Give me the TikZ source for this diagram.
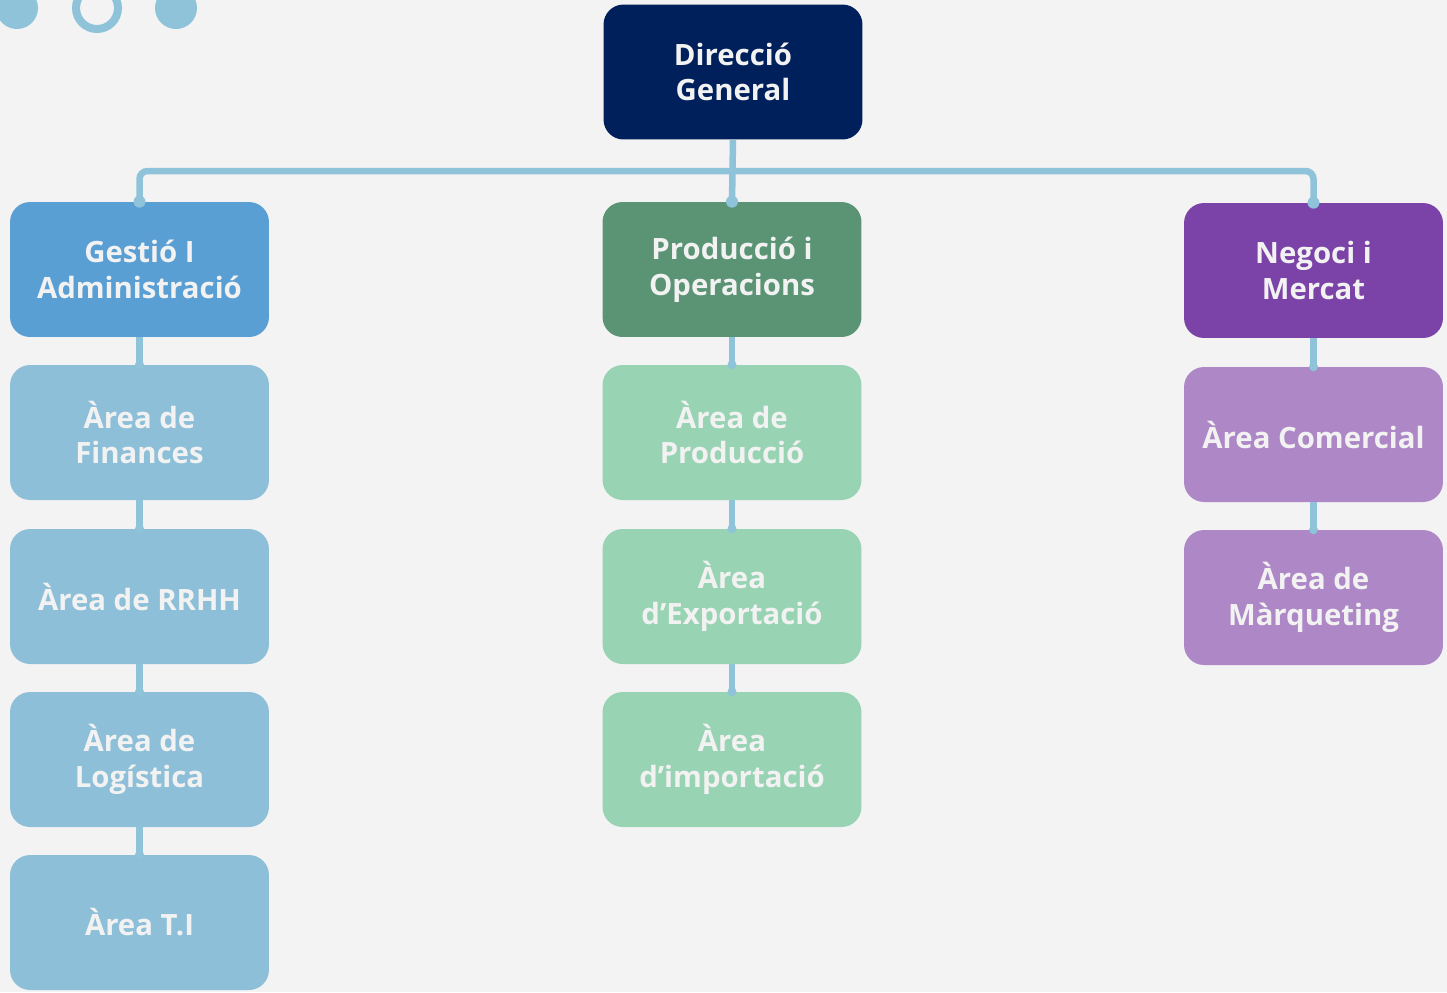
\documentclass[tikz,border=0pt]{standalone}
\usepackage{fontspec}
\setmainfont{Open Sans}
\definecolor{bgcol}{HTML}{F3F3F3}
\definecolor{linkcol}{HTML}{8EC3DA}
\definecolor{navy}{HTML}{00205B}
\definecolor{gestcol}{HTML}{5A9FD4}
\definecolor{gestsub}{HTML}{8DC0D8}
\definecolor{prodcol}{HTML}{5A9474}
\definecolor{prodsub}{HTML}{98D3B4}
\definecolor{negcol}{HTML}{7B42A8}
\definecolor{negsub}{HTML}{AD87C6}
\definecolor{txtcol}{HTML}{F2F2F2}
\begin{document}
\begin{tikzpicture}[x=0.02cm,y=-0.02cm,
    box/.style={rounded corners=0.4cm,minimum width=5.18cm,minimum height=2.7cm,
      align=center,text=txtcol,font=\fontsize{16.7}{20.3}\selectfont\bfseries,inner sep=0pt},
    link/.style={draw=linkcol,line width=0.13cm},
    dot/.style={fill=linkcol}]
  % background
  \useasboundingbox (0,0) rectangle (1447,992);
  \fill[bgcol] (0,0) rectangle (1447,992);
  \clip (0,0) rectangle (1447,992);
  \fill[linkcol] (17,8) circle (0.42cm);
  \draw[linkcol,line width=0.16cm] (97,8) circle (0.42cm);
  \fill[linkcol] (176,8) circle (0.42cm);
  % boxes
  \node[box,fill=navy] (dg) at (733,72) {Direcció\\General};
  \node[box,fill=gestcol] (gest) at (139.5,269.5) {Gestió I\\Administració};
  \node[box,fill=gestsub] (fin) at (139.5,432.5) {Àrea de\\Finances};
  \node[box,fill=gestsub] (rrhh) at (139.5,596.5) {Àrea de RRHH};
  \node[box,fill=gestsub] (log) at (139.5,759.5) {Àrea de\\Logística};
  \node[box,fill=gestsub] (ti) at (139.5,922.5) {Àrea T.I};
  \node[box,fill=prodcol] (prod) at (732,269.5) {Producció i\\Operacions};
  \node[box,fill=prodsub] (pro) at (732,432.5) {Àrea de\\Producció};
  \node[box,fill=prodsub] (exp) at (732,596.5) {Àrea\\d’Exportació};
  \node[box,fill=prodsub] (imp) at (732,759.5) {Àrea\\d’importació};
  \node[box,fill=negcol] (neg) at (1313.5,270.5) {Negoci i\\Mercat};
  \node[box,fill=negsub] (com) at (1313.5,434.5) {Àrea Comercial};
  \node[box,fill=negsub] (mar) at (1313.5,597.5) {Àrea de\\Màrqueting};
  % connectors
  \coordinate (bus) at (733,171);
  \draw[link,rounded corners=0.16cm] (gest.north) |- (bus) -| (neg.north);
  \draw[link] (dg.south) -- (prod.north);
  \foreach \a/\b in {gest/fin,fin/rrhh,rrhh/log,log/ti,prod/pro,pro/exp,exp/imp,neg/com,com/mar}
    \draw[link] (\a.south) -- (\b.north);
  \foreach \n in {gest,prod,neg}
    \fill[dot] (\n.north) circle (0.12cm);
  \foreach \n in {fin,rrhh,log,ti,pro,exp,imp,com,mar}
    \fill[dot] (\n.north) circle (0.09cm);
\end{tikzpicture}
\end{document}
